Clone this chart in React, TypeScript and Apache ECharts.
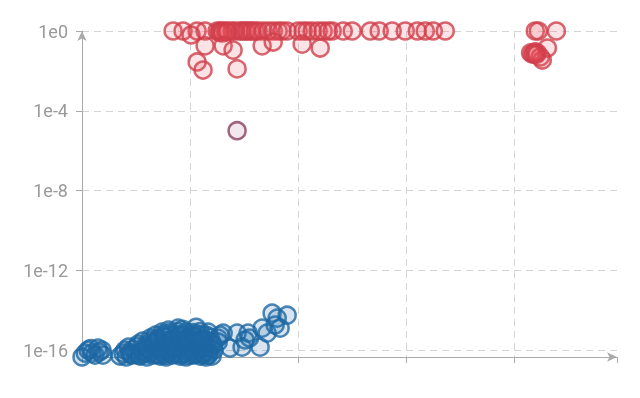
import React, { useEffect, useRef } from "react";
import * as echarts from "echarts";

// Red series (x, y)
const redX = [
  0.843, 0.935, 1.065, 1.139, 1.25, 1.278, 1.296, 1.324, 1.352, 1.389, 1.417, 1.463, 1.481, 1.509,
  1.528, 1.556, 1.574, 1.602, 1.63, 1.676, 1.722, 1.769, 1.815, 1.852, 1.898, 2.0, 2.046, 2.083,
  2.13, 2.185, 2.231, 2.278, 2.315, 2.417, 2.5, 2.667, 2.75, 2.87, 2.991, 3.102, 3.176, 3.25, 3.361,
  4.194, 4.222, 4.389, 1.27, 1.3, 1.34,
  1.009, 1.139, 1.306, 1.398, 1.667, 1.769, 2.037, 2.204, 1.065, 1.12, 1.435,
  4.167, 4.194, 4.213, 4.241, 4.259, 4.306, 4.15, 4.18, 4.2,
];
const redY = [
  1, 1, 1, 1, 1, 1, 1, 1, 1, 1, 1, 1, 1, 1,
  1, 1, 1, 1, 1, 1, 1, 1, 1, 1, 1, 1, 1, 1,
  1, 1, 1, 1, 1, 1, 1, 1, 1, 1, 1, 1, 1, 1, 1,
  1, 1, 1, 0.85, 0.8, 0.9,
  0.63, 0.18, 0.18, 0.11, 0.18, 0.28, 0.22, 0.14, 0.028, 0.011, 0.0126,
  0.07, 0.089, 0.079, 0.05, 0.035, 0.14, 0.08, 0.075, 0.065,
];

// Single intermediate point
const midX = [1.435];
const midY = [1e-5];

// Blue series (x, y)
const blueX = [
  0, 0.056, 0.093, 0.12, 0.148, 0.185, 0.194, 0.03, 0.16, 0.08,
  0.352, 0.41, 0.463, 0.537, 0.6, 0.657, 0.722, 0.778, 0.833, 0.907, 0.963, 1.028, 1.093, 1.148, 1.204,
  0.38, 0.44, 0.5, 0.57, 0.64, 0.69, 0.75, 0.8, 0.87, 0.94, 1.0, 1.06, 1.12, 1.18,
  0.398, 0.472, 0.556, 0.63, 0.704, 0.769, 0.833, 0.889, 0.954, 1.019, 1.083, 1.157, 1.222,
  0.43, 0.51, 0.59, 0.67, 0.74, 0.8, 0.86, 0.92, 0.99, 1.05, 1.11, 1.19,
  0.519, 0.593, 0.676, 0.75, 0.815, 0.88, 0.944, 1.0, 1.065, 1.139, 1.213,
  0.56, 0.64, 0.71, 0.78, 0.85, 0.91, 0.97, 1.03, 1.1, 1.17,
  0.63, 0.704, 0.778, 0.852, 0.917, 0.981, 1.046, 1.12, 1.185, 1.259,
  0.68, 0.75, 0.82, 0.9, 0.96, 1.02, 1.08, 1.15,
  0.741, 0.815, 0.889, 0.963, 1.028, 1.093, 1.167,
  0.889, 1.056, 0.93, 0.8,
  0.45, 0.53, 0.61, 0.7, 0.77, 0.84, 0.92, 0.98, 1.04, 1.12, 1.17,
  0.6, 0.66, 0.73, 0.79, 0.86, 0.93, 0.99, 1.07, 1.13, 1.2,
  0.7, 0.76, 0.83, 0.9, 0.97, 1.04, 1.1,
  1.278, 1.306, 1.37, 1.435, 1.481, 1.509, 1.537, 1.648, 1.667, 1.713, 1.759, 1.787, 1.806, 1.833, 1.898, 1.26, 1.55,
];
const blueY = [
  4.5e-17, 1e-16, 7.1e-17, 5.6e-17, 1.26e-16, 1e-16, 5.6e-17, 7e-17, 8e-17, 1.2e-16,
  5e-17, 4.5e-17, 5.6e-17, 5e-17, 4.5e-17, 5.6e-17, 5e-17, 4.5e-17, 5.6e-17, 5e-17, 4.5e-17, 5.6e-17, 5e-17, 4.5e-17, 5e-17,
  7e-17, 7.5e-17, 6.5e-17, 7e-17, 7.5e-17, 6.5e-17, 7e-17, 7.5e-17, 6.5e-17, 7e-17, 7.5e-17, 6.5e-17, 7e-17, 7.5e-17,
  1e-16, 1.1e-16, 9e-17, 1e-16, 1.1e-16, 9e-17, 1e-16, 1.1e-16, 9e-17, 1e-16, 1.1e-16, 9e-17, 1e-16,
  1.4e-16, 1.5e-16, 1.3e-16, 1.4e-16, 1.5e-16, 1.3e-16, 1.4e-16, 1.5e-16, 1.3e-16, 1.4e-16, 1.5e-16, 1.3e-16,
  2e-16, 1.8e-16, 2.2e-16, 2e-16, 1.8e-16, 2.2e-16, 2e-16, 1.8e-16, 2.2e-16, 2e-16, 1.8e-16,
  2.8e-16, 3e-16, 2.7e-16, 2.9e-16, 3e-16, 2.8e-16, 2.7e-16, 3e-16, 2.9e-16, 2.8e-16,
  4e-16, 3.6e-16, 4.4e-16, 4e-16, 3.6e-16, 4.4e-16, 4e-16, 3.6e-16, 4.4e-16, 4e-16,
  5.6e-16, 6e-16, 5.5e-16, 6e-16, 5.8e-16, 5.6e-16, 6e-16, 5.5e-16,
  8e-16, 7.5e-16, 8.5e-16, 8e-16, 7.5e-16, 8.5e-16, 8e-16,
  1.26e-15, 1.4e-15, 1.1e-15, 1e-15,
  6e-17, 5.5e-17, 6.5e-17, 6e-17, 5.5e-17, 6.5e-17, 6e-17, 5.5e-17, 6.5e-17, 6e-17, 5.5e-17,
  1.2e-16, 2.4e-16, 1.2e-16, 2.4e-16, 1.2e-16, 2.4e-16, 1.2e-16, 2.4e-16, 1.2e-16, 2.4e-16,
  3.5e-16, 5e-16, 3.5e-16, 5e-16, 3.5e-16, 5e-16, 3.5e-16,
  5.6e-16, 7.1e-16, 1.26e-16, 7.1e-16, 1.4e-16, 3.2e-16, 7.1e-16, 1.4e-16, 1.26e-15, 7.1e-16, 7.1e-15, 1.8e-15, 4e-15, 1.26e-15, 5.6e-15, 2.5e-16, 4e-16,
];

const yTickExponents = [0, -4, -8, -12, -16];

const toPairs = (xs: number[], ys: number[]) => xs.map((x, i) => [x, Math.log10(ys[i])]);

export default function App() {
  const ref = useRef<HTMLDivElement>(null);
  useEffect(() => {
    if (!ref.current) return;
    const chart = echarts.init(ref.current, undefined, { renderer: "svg" });
    const allLog = [...redY, ...midY, ...blueY].map((v) => Math.log10(v));
    const yMin = Math.min(...allLog);
    const yMax = Math.max(...allLog);
    const dash = { type: [7, 5] as any, color: "#d4d4d4", width: 1 };
    chart.setOption({
      animation: false,
      grid: { left: 82, right: 23, top: 31, bottom: 41 },
      xAxis: {
        type: "value",
        min: 0,
        max: 4.95,
        interval: 1,
        axisLine: {
          show: true,
          onZero: false,
          symbol: ["none", "arrow"],
          symbolSize: [7, 10],
          lineStyle: { color: "#aaa" },
        },
        axisTick: { show: true, length: 6, lineStyle: { color: "#aaa" } },
        axisLabel: { show: false },
        splitLine: { show: true, showMinLine: false, showMaxLine: false, lineStyle: dash },
      },
      yAxis: {
        type: "value",
        min: yMin,
        max: yMax,
        minInterval: 4,
        maxInterval: 4,
        splitNumber: 4,
        axisLine: {
          show: true,
          onZero: false,
          symbol: ["none", "arrow"],
          symbolSize: [7, 10],
          lineStyle: { color: "#aaa" },
        },
        axisTick: { show: true, length: 6, lineStyle: { color: "#aaa" } },
        axisLabel: {
          showMinLabel: false,
          showMaxLabel: true,
          margin: 14,
          color: "#999",
          fontSize: 18,
          fontFamily: "Roboto",
          formatter: (v: number) => (yTickExponents.includes(Math.round(v * 100) / 100) ? "1e" + v : ""),
        },
        splitLine: { show: true, showMinLine: false, lineStyle: dash },
      },
      series: [
        {
          type: "scatter",
          clip: false,
          symbolSize: 17,
          data: toPairs(blueX, blueY),
          itemStyle: { color: "rgba(33,110,170,0.22)", borderColor: "#1d68a3", borderWidth: 2.5 },
        },
        {
          type: "scatter",
          clip: false,
          symbolSize: 17,
          data: toPairs(redX, redY),
          itemStyle: { color: "rgba(235,80,95,0.2)", borderColor: "#cf3f4b", borderWidth: 2.5 },
        },
        {
          type: "scatter",
          clip: false,
          symbolSize: 17,
          data: toPairs(midX, midY),
          itemStyle: { color: "rgba(150,60,100,0.15)", borderColor: "#8a3f60", borderWidth: 2.5 },
        },
      ],
    });
    return () => chart.dispose();
  }, []);
  return <div ref={ref} style={{ position: "fixed", left: 0, top: 0, width: 640, height: 398 }} />;
}
